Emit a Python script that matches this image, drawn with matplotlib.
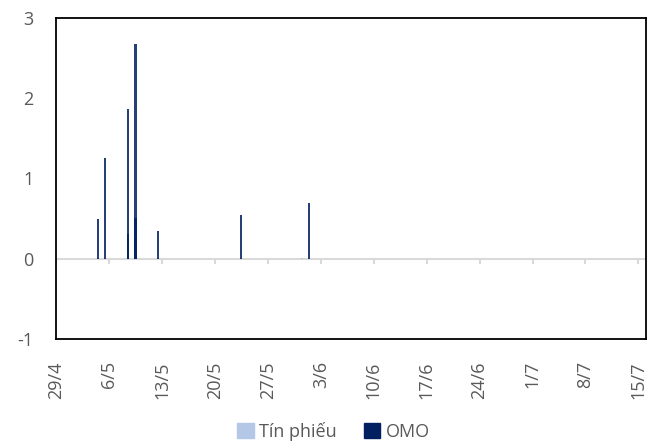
import datetime as dt
import matplotlib
matplotlib.use("Agg")
import matplotlib.pyplot as plt
from matplotlib.patches import Patch

plt.rcParams['font.family'] = ['Open Sans', 'DejaVu Sans']

start_date = "29/4"
end_date = "16/7"
tick_labels = ["29/4", "6/5", "13/5", "20/5", "27/5", "3/6", "10/6", "17/6",
               "24/6", "1/7", "8/7", "15/7"]

omo_dates = ["4/5", "5/5", "8/5", "8/5", "9/5", "9/5", "12/5", "23/5", "1/6"]
omo_values = [0.50, 1.25, 1.87, 0.31, 2.68, 0.51, 0.35, 0.54, 0.70]

tp_dates = ["31/5"]
tp_values = [0.012]

y_ticks = [-1, 0, 1, 2, 3]

col_omo = "#002060"
col_tp = "#B4C7E7"
txt = "#595959"

def parse(s, year=2025):
    p = s.split("/")
    return dt.date(year, int(p[1]), int(p[0]))

d0 = parse(start_date)
d_end = parse(end_date)

def dayidx(s):
    return (parse(s) - d0).days

fig = plt.figure(figsize=(6.67, 4.45), dpi=100)
ax = fig.add_axes([0.084, 0.2382, 0.8845, 0.7214])

bw = 0.28
ax.bar([dayidx(d) + 0.5 for d in tp_dates], tp_values, width=bw, color=col_tp, zorder=3)
ax.bar([dayidx(d) + 0.5 for d in omo_dates], omo_values, width=bw, color=col_omo,
       alpha=0.85, edgecolor="none", zorder=3)

xmax = (d_end - d0).days
ax.set_xlim(0, xmax)
ax.set_ylim(-1, 3)

# zero line and its tick marks
ax.axhline(0, color="#D9D9D9", lw=1.5, zorder=2)
tick_pos = [dayidx(t) for t in tick_labels]
ax.vlines(tick_pos, -0.07, 0, color="#D9D9D9", lw=1.5, zorder=2)

ax.set_xticks(tick_pos)
ax.set_xticklabels(tick_labels, rotation=90, fontsize=13, color=txt)
ax.tick_params(axis="x", length=0, pad=16)
ax.set_yticks(y_ticks)
ax.set_yticklabels([str(v) for v in y_ticks], fontsize=13, color=txt)
ax.tick_params(axis="y", length=0, pad=16)

for s in ax.spines.values():
    s.set_color("black")
    s.set_linewidth(1.3)

handles = [Patch(color=col_tp, label="Tín phiếu"), Patch(color=col_omo, label="OMO")]
fig.legend(handles=handles, loc="center", bbox_to_anchor=(0.5, 0.03), ncol=2,
           frameon=False, fontsize=13, labelcolor=txt, handlelength=0.9,
           handleheight=0.9, handletextpad=0.3, columnspacing=1.5)

fig.savefig("out.png", dpi=100)
